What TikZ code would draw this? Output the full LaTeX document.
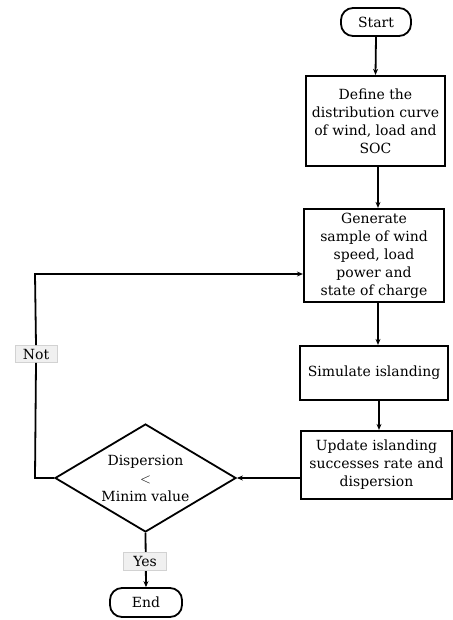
\documentclass[tikz,border=0pt]{standalone}
\usepackage{fontspec}
\setmainfont{DejaVu Serif}
\usetikzlibrary{shapes.geometric,arrows.meta}
\begin{document}
\begin{tikzpicture}[x=1pt,y=-1pt,
  box/.style={draw,line width=2.2pt,align=center,inner sep=0pt,font=\fontsize{14}{18}\selectfont},
  term/.style={draw,line width=1.8pt,rounded corners=12pt,inner sep=0pt,font=\fontsize{14}{18}\selectfont},
  conn/.style={line width=1.8pt,-{Stealth[length=6pt,width=5pt]}},
  lbl/.style={fill=gray!12,draw=gray!35,line width=0.6pt,inner sep=0pt,font=\fontsize{14}{18}\selectfont}]
\useasboundingbox (0,0) rectangle (452,620);
\node[term,minimum width=70pt,minimum height=28pt] (start) at (376,22) {Start};
\node[box,minimum width=139pt,minimum height=90pt] (define) at (375.5,121) {Define the\\distribution curve\\of wind, load and\\SOC};
\node[box,minimum width=140pt,minimum height=93pt] (gen) at (374,255.5) {Generate\\sample of wind\\speed, load\\power and\\state of charge};
\node[box,minimum width=148pt,minimum height=54pt] (sim) at (374,373) {Simulate islanding};
\node[box,minimum width=151pt,minimum height=68pt] (upd) at (376.5,465) {Update islanding\\successes rate and\\dispersion};
\node[draw,line width=1.8pt,diamond,aspect=1.68,minimum width=181pt,minimum height=108pt,inner sep=0pt,align=center,font=\fontsize{14}{18}\selectfont] (dec) at (145.5,478) {Dispersion\\$<$\\Minim value};
\node[term,minimum width=72pt,minimum height=29pt] (end) at (146,602.5) {End};
\coordinate (c1) at (35,478);
\coordinate (c2) at (35,274);
\node[lbl,minimum width=42pt,minimum height=17pt] (not) at (36,354) {Not};
\draw[conn] (start.south) -- (define.north);
\draw[conn] (define.south -| 378,0) -- (gen.north -| 378,0);
\draw[conn] (gen.south -| 378,0) -- (sim.north -| 378,0);
\draw[conn] (sim.south -| 379,0) -- (upd.north -| 379,0);
\draw[conn] (upd.west |- 0,478) -- (dec.east);
\draw[line width=1.8pt] (dec.west) -- (c1) -- (not.south);
\draw[conn] (not.north) -- (c2) -- (gen.west |- c2);
\draw[conn] (dec.south) -- (end.north);
\node[lbl,minimum width=43pt,minimum height=18pt] (yes) at (145,561) {Yes};
\end{tikzpicture}
\end{document}
